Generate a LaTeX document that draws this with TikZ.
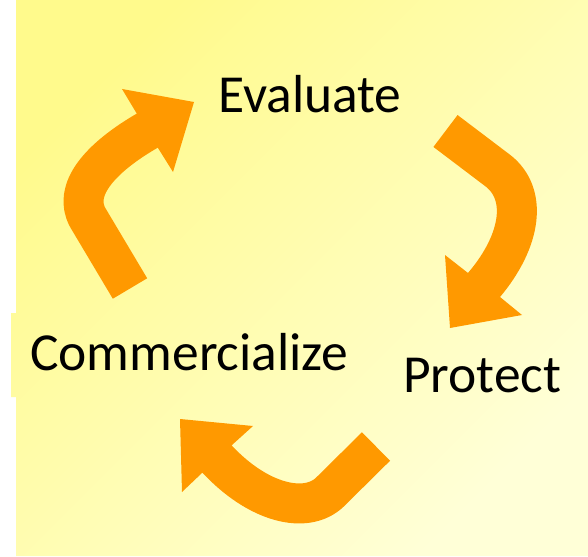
\documentclass[tikz,border=0pt]{standalone}
\usepackage{fontspec}
\setmainfont{Carlito}
\definecolor{arroworange}{RGB}{255,153,0}
\definecolor{bgtop}{RGB}{255,250,140}
\definecolor{bgbot}{RGB}{255,255,215}
\begin{document}
\begin{tikzpicture}[x=1pt,y=-1pt,
  stagetext/.style={font=\fontsize{53.5}{64}\selectfont, anchor=base west, inner sep=0pt},
  shaft/.style={draw=arroworange, line width=40pt, line cap=butt, line join=round},
  arrowhead/.style={fill=arroworange}]
\useasboundingbox (0,0) rectangle (588,556);
\fill[white] (0,0) rectangle (588,556);
\path[top color=bgtop, bottom color=bgbot, shading angle=45]
  (16,0) -- (588,0) -- (588,556) -- (16,556) -- (16,397) -- (11,397) -- (11,313) -- (16,313) -- cycle;

\node[stagetext] (eval) at (218,113) {Evaluate};
\node[stagetext] (comm) at (30,370) {Commercialize};
\node[stagetext] (prot) at (403,392) {Protect};

% arrow 1: Commercialize -> Evaluate
\coordinate (a1s) at (130,288.5);
\coordinate (a1k) at (88,218);
\coordinate (a1e) at (147.5,130.5);
\draw[shaft] (a1s) -- (a1k) .. controls (72,190) and (100,158) .. (a1e) -- ++(2.5,-1.5);
\fill[arrowhead] (137,114) -- (122,89) -- (194,102) -- (173,172) -- (158,148) -- cycle;

% arrow 2: Evaluate -> Protect
\coordinate (a2s) at (445.5,131);
\coordinate (a2k) at (497,170);
\coordinate (a2e) at (484,285);
\draw[shaft] (a2s) -- (a2k) .. controls (528,193) and (522,240) .. (a2e) -- ++(-1.5,2);
\fill[arrowhead] (468,273) -- (445,255) -- (450,328) -- (522,315) -- (500,297) -- cycle;

% arrow 3: Protect -> Commercialize
\coordinate (a3s) at (376,446.5);
\coordinate (a3k) at (330,492);
\coordinate (a3e) at (217,459);
\draw[shaft] (a3s) -- (a3k) .. controls (306,515) and (258,503) .. (a3e) -- ++(-1.4,-1.5);
\fill[arrowhead] (232,445) -- (253,426) -- (180,419) -- (182,492) -- (202,473) -- cycle;
\end{tikzpicture}
\end{document}
